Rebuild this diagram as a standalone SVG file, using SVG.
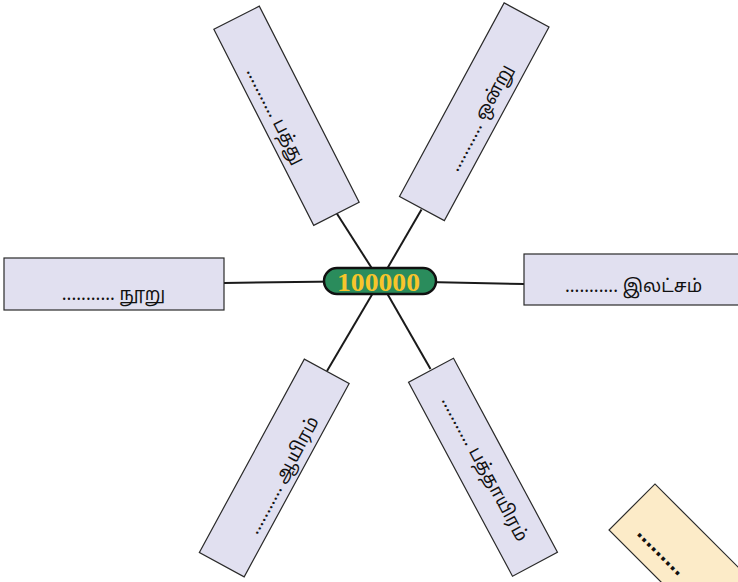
<svg xmlns="http://www.w3.org/2000/svg" width="738" height="582" viewBox="0 0 738 582">
<style>
.box{fill:#E1E0F0;stroke:#2a2a2a;stroke-width:1.2}
.lbl{font-family:"Noto Sans Tamil","Lohit Tamil","Noto Sans","DejaVu Sans",sans-serif;font-size:18px;fill:#111;text-anchor:middle}
.conn line{stroke:#1a1a1a;stroke-width:2}
</style>
<rect width="738" height="582" fill="#fff"/>
<g id="connectors" class="conn">
<line x1="380" y1="281" x2="224" y2="283"/>
<line x1="380" y1="281" x2="524" y2="284"/>
<line x1="380" y1="281" x2="336.5" y2="213"/>
<line x1="380" y1="281" x2="421.5" y2="209.5"/>
<line x1="380" y1="281" x2="327" y2="371"/>
<line x1="380" y1="281" x2="430.5" y2="369"/>
</g>
<g id="node-pathu" transform="translate(286.5,115.75) rotate(63)">
<rect class="box" x="-110" y="-25.5" width="220" height="51"/>
<text class="lbl" x="-5" y="15.5">........... பத்து</text>
</g>
<g id="node-onru" transform="translate(474.25,111.75) rotate(-61.6)">
<rect class="box" x="-110" y="-25.5" width="220" height="51"/>
<text class="lbl" x="-2.5" y="14">........... ஒன்று</text>
</g>
<g id="node-nooru">
<rect class="box" x="4" y="258" width="220" height="52"/>
<text class="lbl" x="113.5" y="300">........... நூறு</text>
</g>
<g id="node-ilatcham">
<rect class="box" x="524" y="254" width="220" height="51"/>
<text class="lbl" x="633.5" y="292">........... இலட்சம்</text>
</g>
<g id="node-aayiram" transform="translate(274.25,468) rotate(-61.5)">
<rect class="box" x="-110" y="-25.5" width="220" height="51"/>
<text class="lbl" x="-2" y="17">........... ஆயிரம்</text>
</g>
<g id="node-pathaayiram" transform="translate(483,467.25) rotate(61.8)">
<rect class="box" x="-110" y="-25.5" width="220" height="51"/>
<text class="lbl" x="2" y="5">........... பத்தாயிரம்</text>
</g>
<g id="node-partial" transform="translate(655,484) rotate(45)">
<rect x="0" y="0" width="220" height="65" fill="#FCEBC8" stroke="#2a2a2a" stroke-width="1.2"/>
<text x="22" y="49" font-family="Liberation Sans, sans-serif" font-size="24" font-weight="bold" fill="#111">.........</text>
</g>
<g id="node-hub">
<rect x="324" y="268" width="112" height="26" rx="13" fill="#2A8C5C" stroke="#111" stroke-width="2.5"/>
<text x="378.5" y="291" font-family="Liberation Serif, serif" font-size="25" font-weight="bold" fill="#F7C52B" text-anchor="middle" textLength="83" lengthAdjust="spacingAndGlyphs">100000</text>
</g>
</svg>
